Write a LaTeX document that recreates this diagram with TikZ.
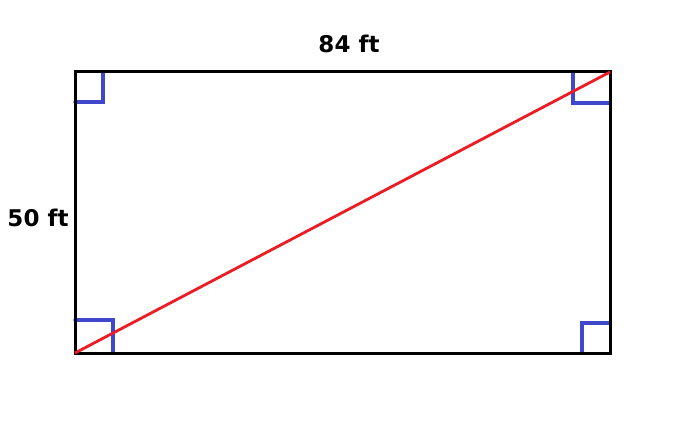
\documentclass[tikz,border=0pt]{standalone}
\usepackage{fontspec}
\setmainfont{DejaVu Sans}
\definecolor{paintblue}{RGB}{63,72,204}
\definecolor{paintred}{RGB}{237,28,36}
\begin{document}
\begin{tikzpicture}[x=1pt,y=-1pt,
  edge/.style={line width=3pt,black},
  rightmark/.style={line width=3.2pt,paintblue,line cap=round},
  diag/.style={line width=2.8pt,paintred},
  lbl/.style={font=\fontsize{23}{27}\selectfont\bfseries,inner sep=0pt}]
\useasboundingbox (0,0) rectangle (700,443);
\fill[white] (0,0) rectangle (700,443);
\coordinate (A) at (75,353);
\coordinate (B) at (610,353);
\coordinate (C) at (610,72);
\coordinate (D) at (75,72);
\draw[rightmark] (75,102) -- (103,102) -- (103,72);
\draw[rightmark] (573,72) -- (573,103) -- (610,103);
\draw[rightmark] (75,320) -- (113,320) -- (113,353);
\draw[rightmark] (582,353) -- (582,323) -- (610,323);
\draw[edge] (A) -- (B) -- (C) -- (D) -- cycle;
\draw[diag] (A) -- (C);
\node[lbl] (top) at (349,44) {84 ft};
\node[lbl] (left) at (38,218) {50 ft};
\end{tikzpicture}
\end{document}
